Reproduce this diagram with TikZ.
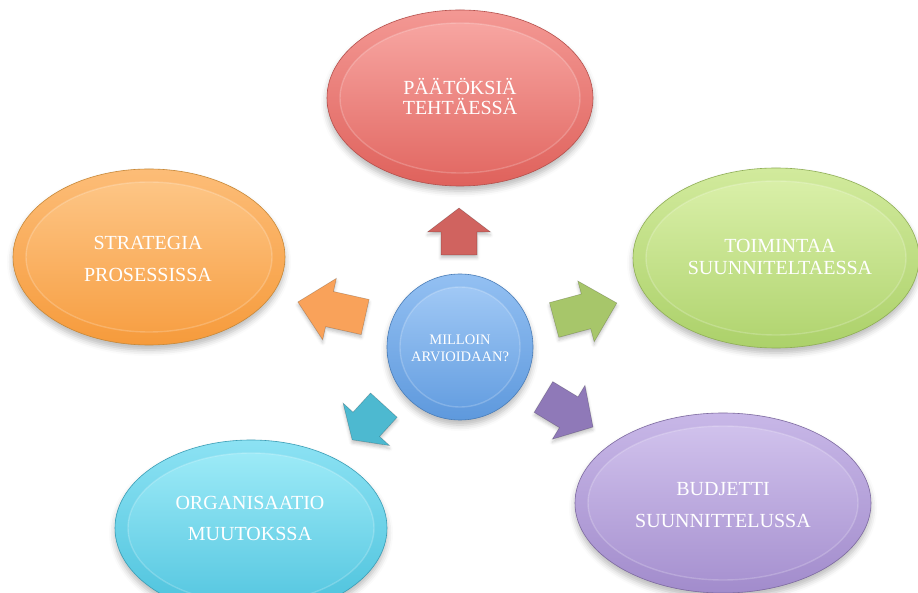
\documentclass[tikz,border=0pt]{standalone}
\usepackage{fontspec}
\setmainfont{Liberation Serif}
\usetikzlibrary{shapes.geometric,shadows.blur}

\definecolor{redL}{HTML}{F7A5A1}\definecolor{redM}{HTML}{EE8580}\definecolor{redD}{HTML}{DF625C}\definecolor{redO}{HTML}{B5504C}\definecolor{redA}{HTML}{D0635F}
\definecolor{orL}{HTML}{FDC585}\definecolor{orM}{HTML}{FBB062}\definecolor{orD}{HTML}{F69B3C}\definecolor{orO}{HTML}{C78838}\definecolor{orA}{HTML}{F9A25A}
\definecolor{grL}{HTML}{D9EFA8}\definecolor{grM}{HTML}{C6E38B}\definecolor{grD}{HTML}{ACD16A}\definecolor{grO}{HTML}{8FAE56}\definecolor{grA}{HTML}{A7C66A}
\definecolor{puL}{HTML}{D0C1EC}\definecolor{puM}{HTML}{BBA8E0}\definecolor{puD}{HTML}{A28CCC}\definecolor{puO}{HTML}{7D6AA0}\definecolor{puA}{HTML}{8F79B8}
\definecolor{cyL}{HTML}{9CEAF7}\definecolor{cyM}{HTML}{74D6EE}\definecolor{cyD}{HTML}{4CC2DC}\definecolor{cyO}{HTML}{3A9DB5}\definecolor{cyA}{HTML}{4DB9D0}
\definecolor{blL}{HTML}{A0C8F5}\definecolor{blM}{HTML}{80B4EE}\definecolor{blD}{HTML}{5E99DD}\definecolor{blO}{HTML}{4A7DB8}

\newcommand\blkarrow[7]{% name colour x y angle length headlength
  \draw[arrowbox, fill=#2, shift={(#3,#4)}, rotate=#5]
    ({-#6/2},-18) -- ({#6/2-#7},-18) -- ({#6/2-#7},-31.5) -- ({#6/2},0)
    -- ({#6/2-#7},31.5) -- ({#6/2-#7},18) -- ({-#6/2},18) -- cycle
    coordinate (#1) at (0,0);}

\begin{document}
\begin{tikzpicture}[x=1pt,y=1pt,
  bubble/.style={ellipse, inner sep=0pt, line width=0.6pt,
    blur shadow={shadow xshift=0pt, shadow yshift=-5pt, shadow opacity=28, shadow blur radius=6pt}},
  bubblein/.style={ellipse, inner sep=0pt, draw=white, draw opacity=0.2, line width=1.4pt},
  bigtxt/.style={text=white, anchor=base, inner sep=0pt, font=\fontsize{20}{22}\selectfont},
  smalltxt/.style={text=white, anchor=base, inner sep=0pt, font=\fontsize{14.5}{17}\selectfont},
  arrowbox/.style={draw=black, draw opacity=0.2, line width=0.6pt,
    blur shadow={shadow xshift=0pt, shadow yshift=-3pt, shadow opacity=22, shadow blur radius=3pt}}]
\useasboundingbox (0,0) rectangle (918,592);
\clip (0,0) rectangle (918,592);

% top (red)
\node[bubble, minimum width=266pt, minimum height=176pt, top color=redL!60!redM, bottom color=redD, draw=redO] (eT) at (460,494) {};
\node[bubblein, minimum width=240pt, minimum height=150pt, top color=redL, bottom color=redD!75!redM] (eTi) at (eT) {};
\node[bigtxt] (tT1) at (460,497) {PÄÄTÖKSIÄ};
\node[bigtxt] (tT2) at (460,477) {TEHTÄESSÄ};

% right (green)
\node[bubble, minimum width=286pt, minimum height=180pt, top color=grL!60!grM, bottom color=grD, draw=grO] (eR) at (776,334) {};
\node[bubblein, minimum width=260pt, minimum height=154pt, top color=grL, bottom color=grD!75!grM] (eRi) at (eR) {};
\node[bigtxt] (tR1) at (780,339) {TOIMINTAA};
\node[bigtxt] (tR2) at (780,317) {SUUNNITELTAESSA};

% bottom right (purple)
\node[bubble, minimum width=296pt, minimum height=180pt, top color=puL!60!puM, bottom color=puD, draw=puO] (eBR) at (723,89) {};
\node[bubblein, minimum width=270pt, minimum height=154pt, top color=puL, bottom color=puD!75!puM] (eBRi) at (eBR) {};
\node[bigtxt] (tBR1) at (723,97) {BUDJETTI};
\node[bigtxt] (tBR2) at (723,65) {SUUNNITTELUSSA};

% bottom left (cyan)
\node[bubble, minimum width=272pt, minimum height=176pt, top color=cyL!60!cyM, bottom color=cyD, draw=cyO] (eBL) at (251,64) {};
\node[bubblein, minimum width=246pt, minimum height=150pt, top color=cyL, bottom color=cyD!75!cyM] (eBLi) at (eBL) {};
\node[bigtxt] (tBL1) at (250,83) {ORGANISAATIO};
\node[bigtxt] (tBL2) at (250,52) {MUUTOKSSA};

% left (orange)
\node[bubble, minimum width=272pt, minimum height=176pt, top color=orL!60!orM, bottom color=orD, draw=orO] (eL) at (149,335) {};
\node[bubblein, minimum width=246pt, minimum height=150pt, top color=orL, bottom color=orD!75!orM] (eLi) at (eL) {};
\node[bigtxt] (tL1) at (148,342) {STRATEGIA};
\node[bigtxt] (tL2) at (148,310) {PROSESSISSA};

% arrows
\blkarrow{aT}{redA}{459}{360.5}{90}{47}{24}
\blkarrow{aR}{grA}{585.5}{280.5}{15.1}{65}{32}
\blkarrow{aBR}{puA}{568.25}{180}{-31.2}{58}{28.5}
\blkarrow{aBL}{cyA}{368}{169.5}{227.6}{47}{21}
\blkarrow{aL}{orA}{331.5}{282.5}{167.4}{69}{32.5}

% centre (blue)
\node[bubble, circle, minimum size=146pt, top color=blL!60!blM, bottom color=blD, draw=blO] (c) at (460,245) {};
\node[bubblein, circle, minimum size=120pt, top color=blL, bottom color=blD!75!blM] (ci) at (c) {};
\node[smalltxt] (c1) at (460,247) {MILLOIN};
\node[smalltxt] (c2) at (460,230) {ARVIOIDAAN?};
\end{tikzpicture}
\end{document}
